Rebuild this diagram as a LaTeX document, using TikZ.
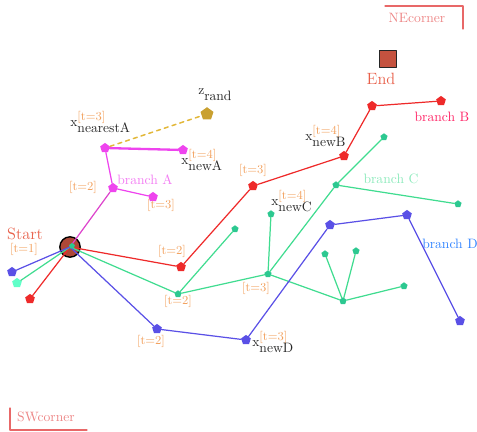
\documentclass[tikz,border=0pt]{standalone}
\usetikzlibrary{shapes.geometric}
\definecolor{treeA}{HTML}{EE44EE}
\definecolor{rootA}{HTML}{DD44CC}
\definecolor{treeB}{HTML}{EE2A2A}
\definecolor{treeC}{HTML}{40DC90}
\definecolor{nodeC}{HTML}{2CC890}
\definecolor{leafC}{HTML}{60FFC8}
\definecolor{treeD}{HTML}{5A50E6}
\definecolor{randgold}{HTML}{C9A030}
\definecolor{randdash}{HTML}{E2B83A}
\definecolor{steporange}{HTML}{F2A05C}
\definecolor{endpoint}{HTML}{E8604A}
\definecolor{cornerred}{HTML}{E86868}
\tikzset{
  pent/.style={regular polygon, regular polygon sides=5, inner sep=0pt, minimum size=7.5pt},
  smallpent/.style={pent, minimum size=5.5pt, fill=nodeC},
  tlabel/.style={text=steporange, font=\small, inner sep=0pt},
  xlabel/.style={text=black!85, inner sep=0pt, anchor=base west},
  edge/.style={line width=0.9pt}
}
% x with step index above and name below
\newcommand{\xstep}[3]{#1\rlap{\raisebox{4.6pt}{\small\color{steporange}[t=#2]}}\raisebox{-3.8pt}{#3}}

\begin{document}
\begin{tikzpicture}[x=0.02585cm, y=-0.02585cm, line cap=round, line join=round]
  \useasboundingbox (0,0) rectangle (477,432);

  % ============ corners ============
  \draw[cornerred, line width=0.8pt] (385,6) -- (463,6) -- (463,29);
  \node[text=cornerred!80, inner sep=0pt] (necorner) at (417,18) {NEcorner};
  \draw[cornerred, line width=0.8pt] (10,408) -- (10,430) -- (87,430);
  \node[text=cornerred!80, inner sep=0pt] (swcorner) at (46,417) {SWcorner};

  % ============ start and end ============
  \node[circle, fill=endpoint!75!black, draw=black, line width=1pt, minimum size=15pt, inner sep=0pt] (start) at (70,247) {};
  \node[rectangle, fill=endpoint!85!black, draw=black!85, line width=1pt, minimum size=12.5pt, inner sep=0pt] (goal) at (388,59) {};
  \node[text=endpoint, font=\large, inner sep=0pt] (startlbl) at (25,234) {Start};
  \node[text=endpoint, font=\large, inner sep=0pt] (goallbl) at (381,79) {End};

  % ============ branch A (magenta) ============
  \node[pent, fill=treeA] (A1) at (113,188) {};
  \node[pent, fill=treeA] (A2) at (105,148) {};
  \node[pent, fill=treeA] (A3) at (183,150) {};
  \node[pent, fill=treeA] (A4) at (153,197) {};
  \node[pent, fill=randgold, minimum size=10pt] (zrand) at (207,114) {};

  % ============ branch B (red) ============
  \node[pent, fill=treeB] (B1) at (30,299) {};
  \node[pent, fill=treeB] (B2) at (181,267) {};
  \node[pent, fill=treeB] (B3) at (253,186) {};
  \node[pent, fill=treeB] (B4) at (344,156) {};
  \node[pent, fill=treeB] (B5) at (372,106) {};
  \node[pent, fill=treeB] (B6) at (441,101) {};

  % ============ branch C (green) ============
  \node[pent, fill=leafC] (C1) at (17,283) {};
  \node[smallpent] (C2) at (178,294) {};
  \node[smallpent] (C3) at (235,229) {};
  \node[smallpent] (C4) at (268,274) {};
  \node[smallpent] (C5) at (271,214) {};
  \node[smallpent] (C6) at (336,185) {};
  \node[smallpent] (C7) at (384,137) {};
  \node[smallpent] (C8) at (458,204) {};
  \node[smallpent] (C9) at (343,301) {};
  \node[smallpent] (C10) at (325,254) {};
  \node[smallpent] (C11) at (356,251) {};
  \node[smallpent] (C12) at (404,286) {};

  % ============ branch D (blue) ============
  \node[pent, fill=treeD] (D1) at (12,272) {};
  \node[pent, fill=treeD] (D2) at (157,329) {};
  \node[pent, fill=treeD] (D3) at (246,340) {};
  \node[pent, fill=treeD] (D4) at (330,225) {};
  \node[pent, fill=treeD] (D5) at (407,215) {};
  \node[pent, fill=treeD] (D6) at (460,321) {};

  % ============ edges ============
  \draw[randdash, line width=1.1pt, dashed] (A2) -- (zrand);
  \draw[rootA, edge] (start.center) -- (A1);
  \draw[treeA, edge] (A1) -- (A2);
  \draw[treeA, line width=1.7pt] (A2) -- (A3);
  \draw[treeA, edge] (A1) -- (A4);

  \draw[treeB, edge] (start.center) -- (B1);
  \draw[treeB, edge] (start.center) -- (B2) -- (B3) -- (B4) -- (B5) -- (B6);

  \draw[treeC, edge] (start.center) -- (C1);
  \draw[treeC, edge] (start.center) -- (C2) -- (C3);
  \draw[treeC, edge] (C2) -- (C4) -- (C5);
  \draw[treeC, edge] (C4) -- (C6) -- (C7);
  \draw[treeC, edge] (C6) -- (C8);
  \draw[treeC, edge] (C4) -- (C9) -- (C10);
  \draw[treeC, edge] (C9) -- (C11);
  \draw[treeC, edge] (C9) -- (C12);

  \draw[treeD, edge] (start.center) -- (D1);
  \draw[treeD, edge] (start.center) -- (D2) -- (D3) -- (D4) -- (D5) -- (D6);

  \node[smallpent, minimum size=4.5pt] (C0) at (72,246) {};

  % ============ labels ============
  \node[xlabel] (zlbl) at (198,95) {z\raisebox{-3.8pt}{rand}};
  \node[xlabel] (nearA) at (70,127) {\xstep{x}{3}{nearestA}};
  \node[xlabel] (newA) at (181,165) {\xstep{x}{4}{newA}};
  \node[xlabel] (newB) at (305,141) {\xstep{x}{4}{newB}};
  \node[xlabel] (newC) at (271,206) {\xstep{x}{4}{newC}};
  \node[xlabel] (newD) at (252,347) {\xstep{x}{3}{newD}};

  \node[tlabel] (tstart) at (24,249) {[t=1]};
  \node[tlabel] (tA1) at (83,187) {[t=2]};
  \node[tlabel] (tA4) at (161,205) {[t=3]};
  \node[tlabel] (tB2) at (172,251) {[t=2]};
  \node[tlabel] (tB3) at (253,170) {[t=3]};
  \node[tlabel] (tC2) at (178,301) {[t=2]};
  \node[tlabel] (tC4) at (256,288) {[t=3]};
  \node[tlabel] (tD2) at (151,341) {[t=2]};

  \node[text=treeA!70!white, inner sep=0pt] (brA) at (145,180) {branch A};
  \node[text=red!70!magenta!85!white, inner sep=0pt] (brB) at (442,117) {branch B};
  \node[text=treeC!60!white, inner sep=0pt] (brC) at (391,179) {branch C};
  \node[text=blue!60!cyan!80!white, inner sep=0pt] (brD) at (450,244) {branch D};

\end{tikzpicture}
\end{document}
